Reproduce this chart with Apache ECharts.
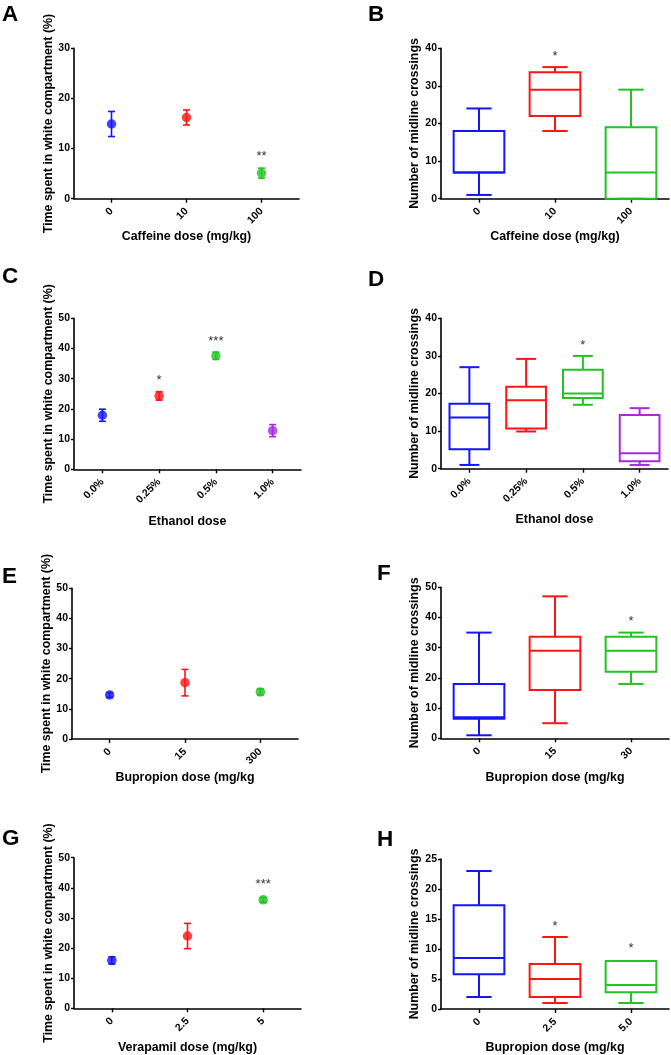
<!DOCTYPE html>
<html>
<head>
<meta charset="utf-8">
<script src="https://cdn.jsdelivr.net/npm/echarts@6/dist/echarts.min.js"></script>
<style>
html,body{margin:0;padding:0;background:#fff;}
#chart{width:671px;height:1055px;}
</style>
</head>
<body>
<div id="chart"></div>
<script>
// ---------- DATA ----------
const groupColors = ['#1414ff', '#ff1414', '#22c322', '#a52ae0'];

// Panel A: caffeine, time in white compartment (mean, SEM)
const catA = ['0', '10', '100'];
const meanA = [14.9, 16.2, 5.1];
const errA = [2.5, 1.5, 1.0];
const sigA = ['', '', '**'];
const sigYA = [null, null, 9];

// Panel B: caffeine, midline crossings [min, q1, median, q3, max]
const catB = ['0', '10', '100'];
const boxB = [[1, 7, 7, 18, 24], [18, 22, 29, 33.6, 35], [0, 0, 7, 19, 29]];
const sigB = ['', '*', ''];
const sigYB = [null, 38.7, null];

// Panel C: ethanol, time in white compartment
const catC = ['0.0%', '0.25%', '0.5%', '1.0%'];
const meanC = [17.9, 24.3, 37.6, 12.8];
const errC = [2.0, 1.4, 1.2, 2.0];
const sigC = ['', '*', '***', ''];
const sigYC = [null, 30.4, 43.4, null];

// Panel D: ethanol, midline crossings
const catD = ['0.0%', '0.25%', '0.5%', '1.0%'];
const boxD = [[1, 5.2, 13.6, 17.3, 27], [9.9, 10.7, 18.2, 21.8, 29.2], [17, 18.8, 20, 26.3, 30], [1, 2, 4.1, 14.3, 16.1]];
const sigD = ['', '', '*', ''];
const sigYD = [null, null, 33.5, null];

// Panel E: bupropion, time in white compartment
const catE = ['0', '15', '300'];
const meanE = [14.6, 18.7, 15.6];
const errE = [0.8, 4.4, 1.0];
const sigE = ['', '', ''];
const sigYE = [null, null, null];

// Panel F: bupropion, midline crossings
const catF = ['0', '15', '30'];
const boxF = [[1, 6.5, 7, 18, 35], [5, 16, 29, 33.6, 47], [18, 22, 29, 33.6, 35]];
const sigF = ['', '', '*'];
const sigYF = [null, null, 39.7];

// Panel G: verapamil, time in white compartment
const catG = ['0', '2.5', '5'];
const meanG = [15.9, 24.0, 36.0];
const errG = [1.2, 4.2, 0.8];
const sigG = ['', '', '***'];
const sigYG = [null, null, 42];

// Panel H: midline crossings
const catH = ['0', '2.5', '5.0'];
const boxH = [[2, 5.8, 8.5, 17.3, 23], [1, 2, 5, 7.5, 12], [1, 2.8, 4, 8, 8]];
const sigH = ['', '*', '*'];
const sigYH = [null, 14.3, 10.6];

const yMaxA = 30, yMaxB = 40, yMaxC = 50, yMaxD = 40, yMaxE = 50, yMaxF = 50, yMaxG = 50, yMaxH = 25;
const yStepA = 10, yStepB = 10, yStepC = 10, yStepD = 10, yStepE = 10, yStepF = 10, yStepG = 10, yStepH = 5;

const yTitleTime = 'Time spent in white compartment (%)';
const yTitleCross = 'Number of midline crossings';

// ---------- LAYOUT ----------
const panels = [
  {letter:'A', type:'dot', cats:catA, mean:meanA, err:errA, sig:sigA, sigY:sigYA, ymax:yMaxA, step:yStepA, ytitle:yTitleTime, xtitle:'Caffeine dose (mg/kg)', grid:{left:74, top:48.3, width:225, height:150.4}, xgap:32, ygap:19, lx:2, ly:2},
  {letter:'B', type:'box', cats:catB, box:boxB, sig:sigB, sigY:sigYB, ymax:yMaxB, step:yStepB, ytitle:yTitleCross, xtitle:'Caffeine dose (mg/kg)', grid:{left:441, top:48.3, width:228, height:150.4}, xgap:32, ygap:20, boxRatio:0.667, lx:368, ly:2},
  {letter:'C', type:'dot', cats:catC, mean:meanC, err:errC, sig:sigC, sigY:sigYC, ymax:yMaxC, step:yStepC, ytitle:yTitleTime, xtitle:'Ethanol dose', grid:{left:74, top:318.3, width:227, height:151}, xgap:46, ygap:19, lx:2, ly:264},
  {letter:'D', type:'box', cats:catD, box:boxD, sig:sigD, sigY:sigYD, ymax:yMaxD, step:yStepD, ytitle:yTitleCross, xtitle:'Ethanol dose', grid:{left:441, top:318.3, width:227, height:150.4}, xgap:45, ygap:20, boxRatio:0.7, lx:368, ly:267},
  {letter:'E', type:'dot', cats:catE, mean:meanE, err:errE, sig:sigE, sigY:sigYE, ymax:yMaxE, step:yStepE, ytitle:yTitleTime, xtitle:'Bupropion dose (mg/kg', grid:{left:72, top:588.3, width:226, height:150.7}, xgap:33, ygap:19, lx:2, ly:564},
  {letter:'F', type:'box', cats:catF, box:boxF, sig:sigF, sigY:sigYF, ymax:yMaxF, step:yStepF, ytitle:yTitleCross, xtitle:'Bupropion dose (mg/kg', grid:{left:441, top:587.3, width:228, height:151}, xgap:33, ygap:20, boxRatio:0.667, lx:377, ly:561},
  {letter:'G', type:'dot', cats:catG, mean:meanG, err:errG, sig:sigG, sigY:sigYG, ymax:yMaxG, step:yStepG, ytitle:yTitleTime, xtitle:'Verapamil dose (mg/kg)', grid:{left:74, top:857.7, width:227, height:150.6}, xgap:33, ygap:19, lx:2, ly:826},
  {letter:'H', type:'box', cats:catH, box:boxH, sig:sigH, sigY:sigYH, ymax:yMaxH, step:yStepH, ytitle:yTitleCross, xtitle:'Bupropion dose (mg/kg', grid:{left:441, top:859, width:228, height:150.3}, xgap:33, ygap:20, boxRatio:0.667, lx:377, ly:827}
];

const FONT = '"Liberation Sans", Arial, Helvetica, sans-serif';
const option = {
  animation: false,
  backgroundColor: '#fff',
  textStyle: {fontFamily: FONT},
  title: [], grid: [], xAxis: [], yAxis: [], series: []
};

panels.forEach((p, i) => {
  option.title.push({
    text: p.letter, left: p.lx, top: p.ly + 1, padding: 0,
    textStyle: {fontFamily: FONT, fontSize: 22.5, fontWeight: 'bold', color: '#000'}
  });
  option.grid.push(Object.assign({containLabel: false}, p.grid));
  option.xAxis.push({
    type: 'category', gridIndex: i, data: p.cats, boundaryGap: true,
    name: p.xtitle, nameLocation: 'middle', nameGap: p.xgap,
    nameTextStyle: {fontFamily: FONT, fontSize: 12.4, fontWeight: 'bold', color: '#000'},
    axisLine: {show: true, onZero: false, lineStyle: {color: '#000', width: 1.6}},
    axisTick: {show: true, alignWithLabel: true, length: 4, lineStyle: {color: '#000', width: 1.4}},
    axisLabel: {rotate: 45, margin: 11, fontFamily: FONT, fontSize: 10.5, fontWeight: 'bold', color: '#000', interval: 0},
    splitLine: {show: false}
  });
  option.yAxis.push({
    type: 'value', gridIndex: i, min: 0, max: p.ymax, interval: p.step,
    name: p.ytitle, nameLocation: 'middle', nameGap: p.ygap, nameRotate: 90,
    nameTextStyle: {fontFamily: FONT, fontSize: 12.4, fontWeight: 'bold', color: '#000'},
    axisLine: {show: true, lineStyle: {color: '#000', width: 1.6}},
    axisTick: {show: true, length: 3, lineStyle: {color: '#000', width: 1.4}},
    axisLabel: {margin: 4, fontFamily: FONT, fontSize: 10.5, fontWeight: 'bold', color: '#000'},
    splitLine: {show: false}
  });

  if (p.type === 'dot') {
    const ebData = p.mean.map((m, k) => [k, m, p.err[k]]);
    option.series.push({
      type: 'custom', xAxisIndex: i, yAxisIndex: i, data: ebData, z: 2,
      renderItem: function (params, api) {
        const x = api.value(0), m = api.value(1), e = api.value(2);
        const t = api.coord([x, m + e]);
        const b = api.coord([x, m - e]);
        const cap = 3.5;
        const c = groupColors[params.dataIndex];
        const st = {stroke: c, lineWidth: 1.6, fill: 'none'};
        return {type: 'group', children: [
          {type: 'line', shape: {x1: t[0], y1: t[1], x2: b[0], y2: b[1]}, style: st},
          {type: 'line', shape: {x1: t[0] - cap, y1: t[1], x2: t[0] + cap, y2: t[1]}, style: st},
          {type: 'line', shape: {x1: b[0] - cap, y1: b[1], x2: b[0] + cap, y2: b[1]}, style: st}
        ]};
      }
    });
    option.series.push({
      type: 'scatter', xAxisIndex: i, yAxisIndex: i, z: 3,
      symbol: 'circle', symbolSize: 9.5,
      data: p.mean.map((m, k) => ({value: [k, m], itemStyle: {color: groupColors[k]}}))
    });
  } else {
    const bxData = p.box.map((b, k) => [k].concat(b));
    const ratio = p.boxRatio;
    option.series.push({
      type: 'custom', xAxisIndex: i, yAxisIndex: i, data: bxData, z: 2,
      renderItem: function (params, api) {
        const x = api.value(0);
        const mn = api.coord([x, api.value(1)]);
        const q1 = api.coord([x, api.value(2)]);
        const md = api.coord([x, api.value(3)]);
        const q3 = api.coord([x, api.value(4)]);
        const mx = api.coord([x, api.value(5)]);
        const band = api.size([1, 0])[0];
        const hw = band * ratio / 2;
        const cw = hw / 2;
        const cx = q1[0];
        const c = groupColors[params.dataIndex];
        const st = {stroke: c, lineWidth: 2, fill: 'none'};
        return {type: 'group', children: [
          {type: 'line', shape: {x1: cx, y1: q3[1], x2: cx, y2: mx[1]}, style: st},
          {type: 'line', shape: {x1: cx, y1: q1[1], x2: cx, y2: mn[1]}, style: st},
          {type: 'line', shape: {x1: cx - cw, y1: mx[1], x2: cx + cw, y2: mx[1]}, style: st},
          {type: 'line', shape: {x1: cx - cw, y1: mn[1], x2: cx + cw, y2: mn[1]}, style: st},
          {type: 'rect', shape: {x: cx - hw, y: q3[1], width: hw * 2, height: q1[1] - q3[1]}, style: {stroke: c, lineWidth: 2, fill: 'rgba(0,0,0,0)'}},
          {type: 'line', shape: {x1: cx - hw, y1: md[1], x2: cx + hw, y2: md[1]}, style: st}
        ]};
      }
    });
  }

  // significance marks
  const sigData = [];
  p.sig.forEach((s, k) => { if (s) sigData.push([k, p.sigY[k], k]); });
  const sigTexts = p.sig;
  option.series.push({
    type: 'custom', xAxisIndex: i, yAxisIndex: i, data: sigData, z: 4,
    renderItem: function (params, api) {
      const pt = api.coord([api.value(0), api.value(1)]);
      return {type: 'text', x: pt[0], y: pt[1] + 3,
        style: {text: sigTexts[api.value(2)], fill: '#333', font: '13px ' + FONT, textAlign: 'center', textVerticalAlign: 'middle', align: 'center', verticalAlign: 'middle'}};
    }
  });
});

const chart = echarts.init(document.getElementById('chart'), null, {renderer: 'canvas'});
chart.setOption(option);
</script>
</body>
</html>
